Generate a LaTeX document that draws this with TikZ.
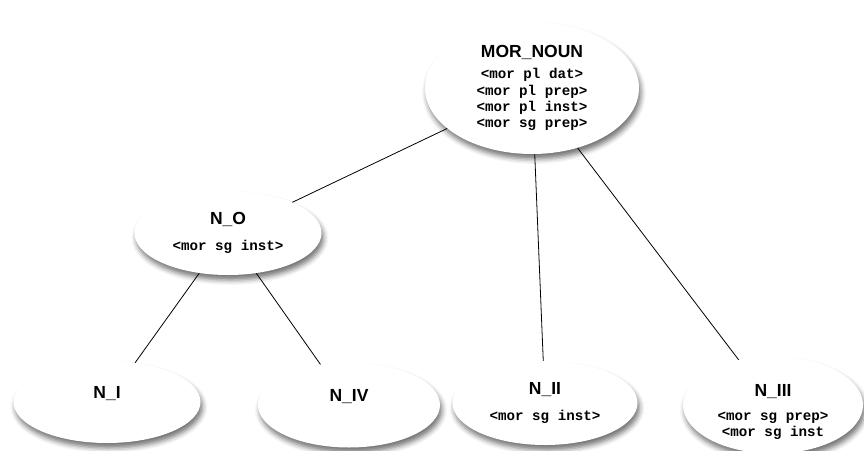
\documentclass[tikz,border=0pt]{standalone}
\usepackage{fontspec}
\setmainfont{Liberation Sans}
\setmonofont{Liberation Mono}
\usepackage{tikz}
\usetikzlibrary{shapes.geometric}
\usetikzlibrary{shadows.blur}
\newcommand\clsname[1]{{\rmfamily\bfseries\fontsize{17.5}{20}\selectfont #1}}

\begin{document}
\begin{tikzpicture}[x=1pt, y=-1pt,
		cls/.style={ellipse, fill=white, inner sep=0pt, align=center,
			font=\ttfamily\bfseries\fontsize{14.2}{16.3}\selectfont,
			blur shadow={shadow xshift=2pt, shadow yshift=-5pt, shadow blur radius=5pt, shadow opacity=55}},
		link/.style={black, line width=0.8pt}]
	\useasboundingbox (0,0) rectangle (864,450);
	\node[cls, minimum width=214, minimum height=132] (mor) at (532,88)
		{\clsname{MOR\_NOUN}\\[5pt] <mor pl dat>\\ <mor pl prep>\\ <mor pl inst>\\ <mor sg prep>};
	\node[cls, minimum width=187, minimum height=84] (nO) at (228,233)
		{\clsname{N\_O}\\[10pt] <mor sg inst>};
	\node[cls, minimum width=187, minimum height=82] (nI) at (107,402)
		{\clsname{N\_I}\\[2pt] \vphantom{<>}};
	\node[cls, minimum width=182, minimum height=85] (nIV) at (349,405)
		{\clsname{N\_IV}\\[2pt] \vphantom{<>}};
	\node[cls, minimum width=185, minimum height=84] (nII) at (545,403)
		{\clsname{N\_II}\\[9pt] <mor sg inst>};
	\node[cls, minimum width=180, minimum height=86] (nIII) at (773,405)
		{\rule{0pt}{26pt}\clsname{N\_III}\\[7pt] <mor sg prep>\\ <mor sg inst};
	\draw[link] (mor) -- (nO);
	\draw[link] (mor) -- (nII);
	\draw[link] (mor) -- (nIII);
	\draw[link] (nO) -- (nI);
	\draw[link] (nO) -- (nIV);
\end{tikzpicture}
\end{document}
